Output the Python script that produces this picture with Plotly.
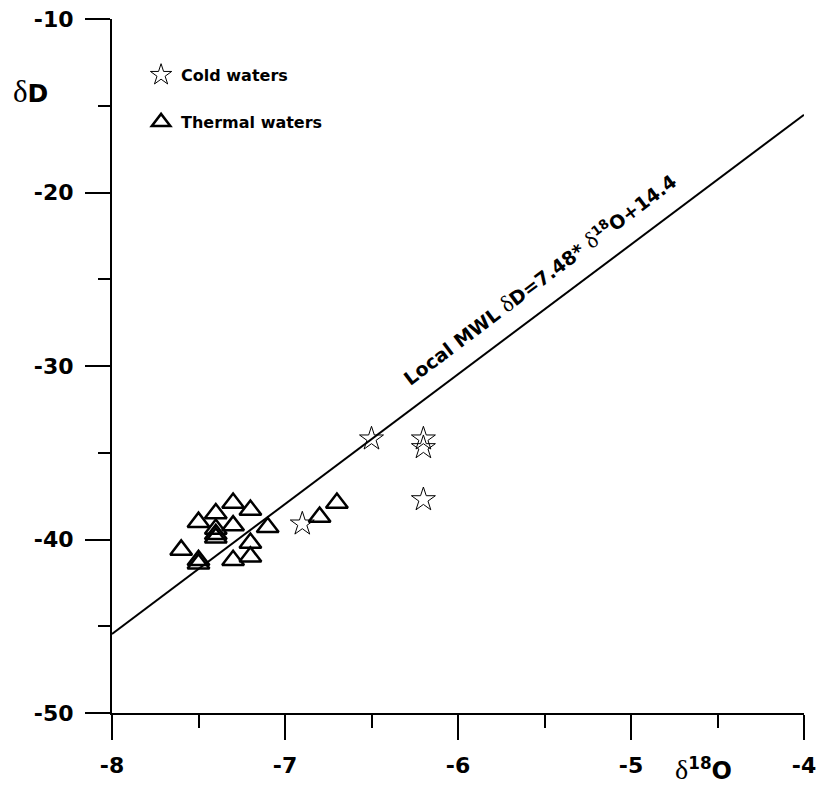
import plotly.graph_objects as go

# ---- data ----
cold_x = [-6.5, -6.2, -6.2, -6.2, -6.9]
cold_y = [-34.2, -34.2, -34.7, -37.7, -39.1]

thermal_x = [-7.3, -7.2, -7.4, -7.5, -7.3, -7.4, -7.4, -7.4, -7.1, -6.8, -6.7,
             -7.6, -7.5, -7.5, -7.2, -7.2, -7.3]
thermal_y = [-37.9, -38.3, -38.5, -39.0, -39.2, -39.4, -39.7, -39.9, -39.3, -38.7, -37.9,
             -40.6, -41.2, -41.4, -40.2, -41.0, -41.2]

# Local meteoric water line: dD = 7.48 * d18O + 14.4
mwl_slope = 7.48
mwl_intercept = 14.4
mwl_x = [-8, -4]
mwl_y = [mwl_slope * v + mwl_intercept for v in mwl_x]

x_ticks = [-8, -7, -6, -5, -4]
y_ticks = [-10, -20, -30, -40, -50]

SANS = "DejaVu Sans, Arial, sans-serif"
SERIF = "Liberation Serif, Times New Roman, serif"


def delta(size=None):
    sz = f";font-size:{size}px" if size else ""
    return f"<span style='font-family:{SERIF};font-weight:normal{sz}'>δ</span>"


fig = go.Figure()

fig.add_trace(go.Scatter(
    x=mwl_x, y=mwl_y, mode="lines",
    line=dict(color="black", width=2),
    showlegend=False, hoverinfo="skip"))

fig.add_trace(go.Scatter(
    x=cold_x, y=cold_y, mode="markers", name="<b>Cold waters</b>",
    marker=dict(symbol="star-open", size=18, color="black",
                line=dict(color="black", width=1)),
    legend="legend"))

fig.add_trace(go.Scatter(
    x=thermal_x, y=thermal_y, mode="markers", name="<b>Thermal waters</b>",
    marker=dict(symbol="triangle-up-open", size=19, color="black",
                line=dict(color="black", width=2.5)),
    legend="legend2"))

axis_common = dict(
    showline=True, linecolor="black", linewidth=2,
    ticks="outside", ticklen=25, tickwidth=2, tickcolor="black",
    showgrid=False, zeroline=False, automargin=False,
    ticklabeloverflow="allow", ticklabelstandoff=7,
    tickfont=dict(family=SANS, size=22, color="black"),
)

fig.update_xaxes(range=[-8, -4], tickvals=x_ticks,
                 ticktext=[f"<b>{v}</b>" for v in x_ticks],
                 minor=dict(dtick=0.5, ticks="outside", ticklen=13, tickwidth=2,
                            tickcolor="black"),
                 **axis_common)
fig.update_yaxes(range=[-50, -10], tickvals=y_ticks,
                 ticktext=[f"<b>{v}</b>" for v in y_ticks],
                 minor=dict(dtick=5, ticks="outside", ticklen=12, tickwidth=2,
                            tickcolor="black"),
                 **axis_common)

legend_style = dict(
    font=dict(family=SANS, size=16, color="black"),
    bgcolor="rgba(0,0,0,0)", borderwidth=0,
    xanchor="left", yanchor="middle", itemsizing="trace",
)

fig.update_layout(
    width=816, height=787,
    margin=dict(l=112, r=12, t=19, b=74, autoexpand=False),
    plot_bgcolor="white", paper_bgcolor="white",
    legend=dict(x=0.042, y=1 - (75 - 19) / 694, **legend_style),
    legend2=dict(x=0.042, y=1 - (122 - 19) / 694, **legend_style),
    annotations=[
        dict(text=f"{delta(31)}<b>D</b>",
             xref="paper", yref="paper", x=(30 - 112) / 692, y=1 - (91 - 19) / 694,
             showarrow=False, xanchor="center", yanchor="middle",
             font=dict(family=SANS, size=25, color="black")),
        dict(text=f"{delta(28)}<b><sup>18</sup>O</b>",
             xref="paper", yref="paper", x=(703 - 112) / 692, y=1 - (769 - 19) / 694,
             showarrow=False, xanchor="center", yanchor="middle",
             font=dict(family=SANS, size=24, color="black")),
        dict(text=f"<b>Local MWL </b>{delta(23)}<b>D=7.48* </b>{delta(23)}<b><sup>18</sup>O+14.4</b>",
             xref="x", yref="y", x=-5.53, y=-25.0,
             showarrow=False, xanchor="center", yanchor="middle", textangle=-37,
             font=dict(family=SANS, size=19, color="black")),
    ],
)

fig.write_html("out.html")
